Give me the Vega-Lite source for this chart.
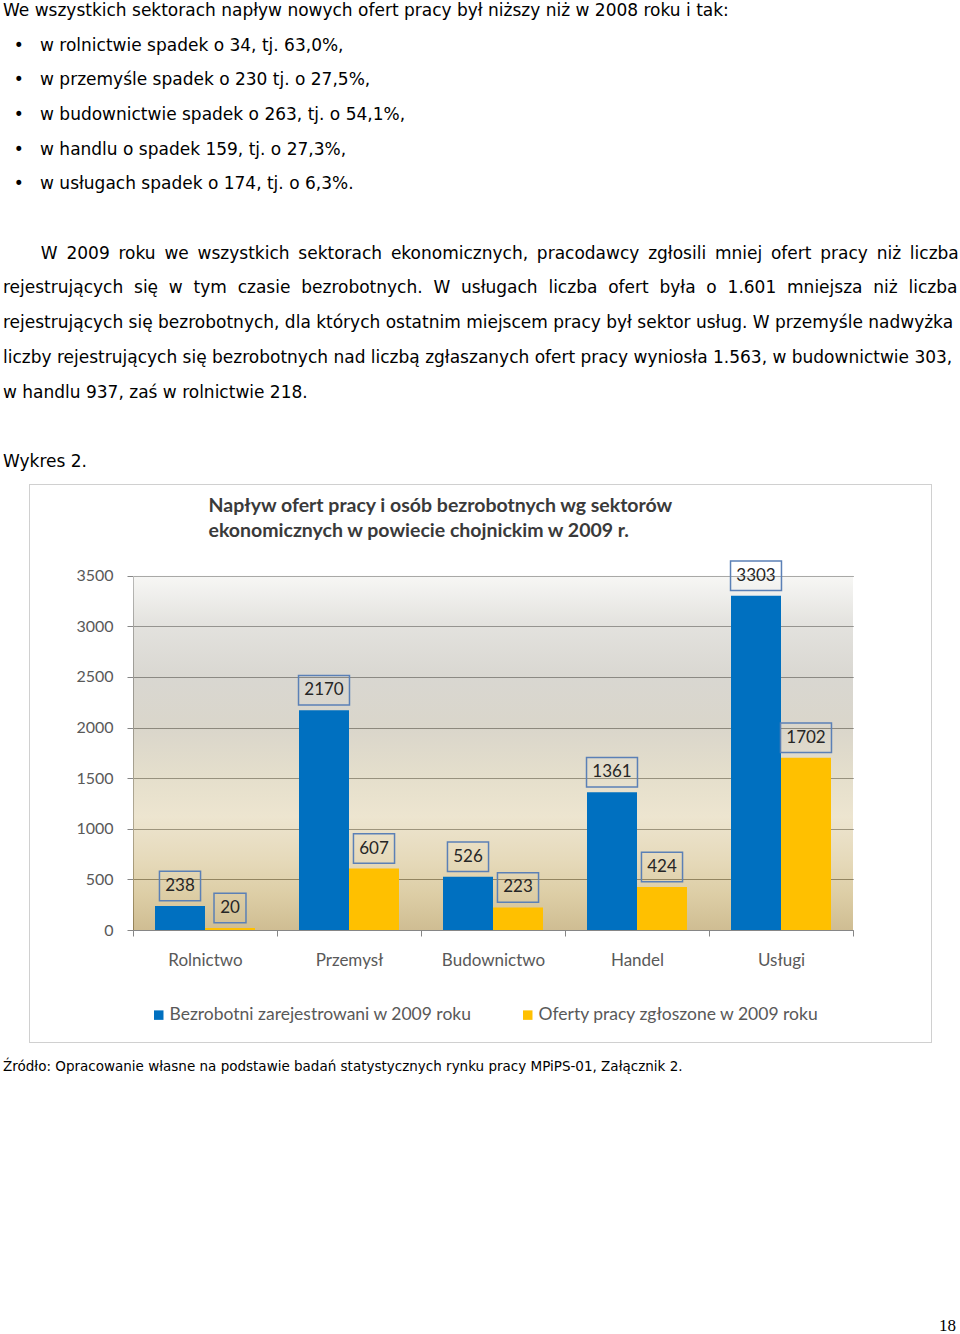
{
  "$schema": "https://vega.github.io/schema/vega-lite/v6.json",
  "width": 902,
  "height": 558,
  "autosize": {"type": "none"},
  "padding": {"left": 29, "top": 484, "right": 29, "bottom": 292},
  "background": "white",
  "config": {
    "view": {"stroke": "#a0a0a0", "strokeDash": [1, 1], "strokeWidth": 1, "fill": "white"}
  },
  "title": {
    "text": [
      "We wszystkich sektorach napływ nowych ofert pracy był niższy niż w 2008 roku i tak:",
      "\u200b\u00a0\u00a0•\u00a0\u00a0\u00a0w rolnictwie spadek o 34, tj. 63,0%,",
      "\u200b\u00a0\u00a0•\u00a0\u00a0\u00a0w przemyśle spadek o 230 tj. o 27,5%,",
      "\u200b\u00a0\u00a0•\u00a0\u00a0\u00a0w budownictwie spadek o 263, tj. o 54,1%,",
      "\u200b\u00a0\u00a0•\u00a0\u00a0\u00a0w handlu o spadek 159, tj. o 27,3%,",
      "\u200b\u00a0\u00a0•\u00a0\u00a0\u00a0w usługach spadek o 174, tj. o 6,3%.",
      "\u200b",
      "\u200b\u00a0\u00a0\u00a0\u00a0\u00a0\u00a0\u00a0W\u2009 2009\u2009 roku\u2009 we\u2009 wszystkich\u2009 sektorach\u2009 ekonomicznych,\u2009 pracodawcy\u2009 zgłosili\u2009 mniej\u2009 ofert\u2009 pracy\u2009 niż\u2009 liczba",
      "rejestrujących\u00a0 się\u00a0 w\u00a0 tym\u00a0 czasie\u00a0 bezrobotnych.\u00a0 W\u00a0 usługach\u00a0 liczba\u00a0 ofert\u00a0 była\u00a0 o\u00a0 1.601\u00a0 mniejsza\u00a0 niż\u00a0 liczba",
      "rejestrujących się bezrobotnych, dla których ostatnim miejscem pracy był sektor usług. W przemyśle nadwyżka",
      "liczby rejestrujących się bezrobotnych nad liczbą zgłaszanych ofert pracy wyniosła 1.563, w budownictwie 303,",
      "w handlu 937, zaś w rolnictwie 218.",
      "\u200b",
      "Wykres 2."
    ],
    "subtitle": "Źródło: Opracowanie własne na podstawie badań statystycznych rynku pracy MPiPS-01, Załącznik 2.",
    "anchor": "start",
    "frame": "group",
    "orient": "top",
    "offset": -590.5,
    "subtitlePadding": 589,
    "dx": -26,
    "font": "DejaVu Sans",
    "fontSize": 17,
    "fontWeight": "normal",
    "color": "#000000",
    "lineHeight": 34.7,
    "subtitleFont": "DejaVu Sans",
    "subtitleFontSize": 13.5,
    "subtitleColor": "#000000",
    "subtitleFontWeight": "normal"
  },
  "data": {
    "values": [
      {"sektor": "Rolnictwo", "seria": "Bezrobotni zarejestrowani w 2009 roku", "wartosc": 238},
      {"sektor": "Rolnictwo", "seria": "Oferty pracy zgłoszone w 2009 roku", "wartosc": 20},
      {"sektor": "Przemysł", "seria": "Bezrobotni zarejestrowani w 2009 roku", "wartosc": 2170},
      {"sektor": "Przemysł", "seria": "Oferty pracy zgłoszone w 2009 roku", "wartosc": 607},
      {"sektor": "Budownictwo", "seria": "Bezrobotni zarejestrowani w 2009 roku", "wartosc": 526},
      {"sektor": "Budownictwo", "seria": "Oferty pracy zgłoszone w 2009 roku", "wartosc": 223},
      {"sektor": "Handel", "seria": "Bezrobotni zarejestrowani w 2009 roku", "wartosc": 1361},
      {"sektor": "Handel", "seria": "Oferty pracy zgłoszone w 2009 roku", "wartosc": 424},
      {"sektor": "Usługi", "seria": "Bezrobotni zarejestrowani w 2009 roku", "wartosc": 3303},
      {"sektor": "Usługi", "seria": "Oferty pracy zgłoszone w 2009 roku", "wartosc": 1702}
    ]
  },
  "layer": [
    {
      "transform": [{"filter": "datum.seria === 'Bezrobotni zarejestrowani w 2009 roku'"}],
      "mark": {
        "type": "rect",
        "fillOpacity": 0.5,
        "fill": {
          "gradient": "linear",
          "x1": 0, "y1": 0, "x2": 0, "y2": 1,
          "stops": [
            {"offset": 0, "color": "#efefeb"},
            {"offset": 0.14, "color": "#c7c5bd"},
            {"offset": 0.29, "color": "#b3afa3"},
            {"offset": 0.43, "color": "#b5ad97"},
            {"offset": 0.57, "color": "#cbbf99"},
            {"offset": 0.68, "color": "#dbcba1"},
            {"offset": 0.8, "color": "#cdb577"},
            {"offset": 0.9, "color": "#bb9d4d"},
            {"offset": 1, "color": "#9f7b27"}
          ]
        }
      },
      "encoding": {
        "x": {
          "field": "sektor", "type": "nominal",
          "sort": ["Rolnictwo", "Przemysł", "Budownictwo", "Handel", "Usługi"],
          "scale": {"range": [104, 824], "paddingInner": 0, "paddingOuter": 0},
          "axis": {
            "orient": "bottom", "offset": -112,
            "labelAngle": 0, "labelFont": "Lato", "labelFontSize": 17, "labelColor": "#595959",
            "labelPadding": 16, "tickBand": "extent", "tickSize": 6, "tickColor": "#868686",
            "domainColor": "#868686", "grid": false,
            "title": "18", "titleX": 918, "titleY": 395, "titleAngle": 0,
            "titleAlign": "center", "titleBaseline": "middle",
            "titleFont": "Liberation Serif", "titleFontSize": 17, "titleFontWeight": "normal",
            "titleColor": "#000000"
          }
        },
        "y": {
          "datum": 3500, "type": "quantitative",
          "scale": {"domain": [0, 3500], "range": [446, 91.7], "nice": false, "zero": true},
          "axis": {
            "orient": "left", "offset": -104,
            "values": [0, 500, 1000, 1500, 2000, 2500, 3000, 3500], "format": "d",
            "tickSize": 6, "tickColor": "#868686", "domainColor": "#868686",
            "labelFont": "Lato", "labelFontSize": 16, "labelColor": "#595959", "labelPadding": 14,
            "labelFlush": false,
            "grid": true, "gridColor": "#636363", "gridWidth": 1,
            "title": ["Napływ ofert pracy i osób bezrobotnych wg sektorów", "ekonomicznych w powiecie chojnickim w 2009 r."],
            "titleAngle": 0, "titleAlign": "left", "titleBaseline": "top",
            "titleX": 75, "titleY": 12,
            "titleFont": "Lato", "titleFontSize": 19.5, "titleFontWeight": "bold", "titleColor": "#3a3a3a",
            "titleLineHeight": 25
          }
        },
        "y2": {"datum": 0}
      }
    },
    {
      "mark": {"type": "bar"},
      "encoding": {
        "x": {"field": "sektor", "type": "nominal", "sort": ["Rolnictwo", "Przemysł", "Budownictwo", "Handel", "Usługi"]},
        "xOffset": {
          "field": "seria", "type": "nominal",
          "sort": ["Bezrobotni zarejestrowani w 2009 roku", "Oferty pracy zgłoszone w 2009 roku"],
          "scale": {"paddingInner": 0, "paddingOuter": 0.44}
        },
        "y": {"field": "wartosc", "type": "quantitative"},
        "color": {
          "field": "seria", "type": "nominal",
          "scale": {
            "domain": ["Bezrobotni zarejestrowani w 2009 roku", "Oferty pracy zgłoszone w 2009 roku"],
            "range": ["#0070c0", "#ffc000"]
          },
          "legend": {
            "orient": "none", "legendX": 121, "legendY": 522, "direction": "horizontal",
            "title": null, "symbolType": "square", "symbolSize": 90, "symbolStrokeWidth": 0,
            "labelFont": "Lato", "labelFontSize": 17.5, "labelColor": "#595959", "labelLimit": 500,
            "labelOffset": 2, "columnPadding": 47, "padding": 0
          }
        }
      }
    },
    {
      "transform": [{"calculate": "toString(length(toString(datum.wartosc)))", "as": "cyfry"}],
      "mark": {"type": "point", "filled": false, "stroke": "#5b80b6", "strokeWidth": 1.5, "size": 2704, "opacity": 1, "yOffset": -20},
      "encoding": {
        "x": {"field": "sektor", "type": "nominal", "sort": ["Rolnictwo", "Przemysł", "Budownictwo", "Handel", "Usługi"]},
        "xOffset": {"field": "seria", "type": "nominal", "sort": ["Bezrobotni zarejestrowani w 2009 roku", "Oferty pracy zgłoszone w 2009 roku"]},
        "y": {"field": "wartosc", "type": "quantitative"},
        "shape": {
          "field": "cyfry", "type": "nominal",
          "scale": {
            "domain": ["2", "3", "4"],
            "range": [
              "M-0.615,-0.567H0.615V0.567H-0.615Z",
              "M-0.79,-0.567H0.79V0.567H-0.79Z",
              "M-0.98,-0.567H0.98V0.567H-0.98Z"
            ]
          },
          "legend": null
        }
      }
    },
    {
      "mark": {"type": "text", "font": "Lato", "fontSize": 17, "color": "#262626", "baseline": "middle", "align": "center", "dy": -20},
      "encoding": {
        "x": {"field": "sektor", "type": "nominal", "sort": ["Rolnictwo", "Przemysł", "Budownictwo", "Handel", "Usługi"]},
        "xOffset": {"field": "seria", "type": "nominal", "sort": ["Bezrobotni zarejestrowani w 2009 roku", "Oferty pracy zgłoszone w 2009 roku"]},
        "y": {"field": "wartosc", "type": "quantitative"},
        "text": {"field": "wartosc", "type": "quantitative", "format": "d"}
      }
    }
  ]
}
